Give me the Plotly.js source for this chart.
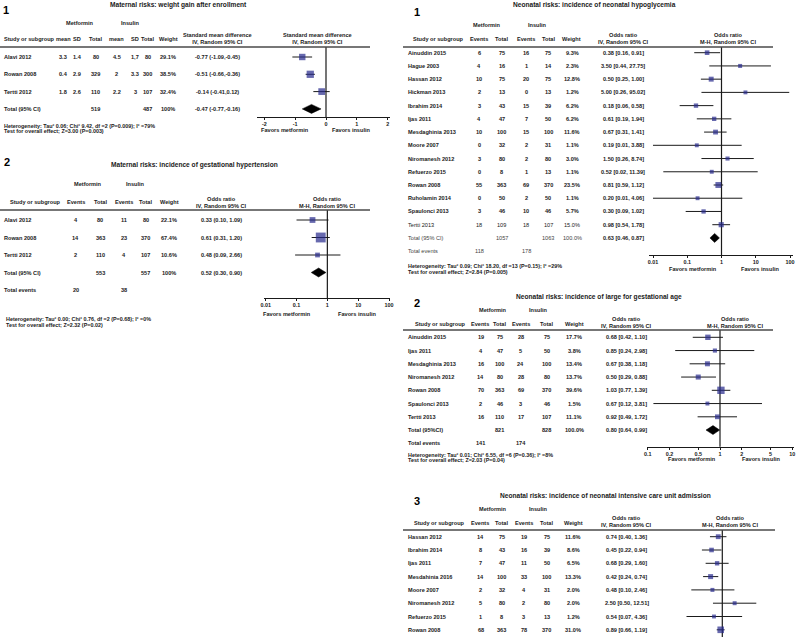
<!DOCTYPE html>
<html><head><meta charset="utf-8">
<script src="https://cdn.plot.ly/plotly-3.0.1.min.js"></script>
<style>html,body{margin:0;padding:0;background:#fff}#chart{width:800px;height:637px}</style>
</head><body><div id="chart"></div>
<script>
// ================= DATA =================
// Panel 1 (left): Maternal risks – weight gain after enrollment
const wgStudy   = ["Alavi 2012", "Rowan 2008", "Tertti 2012"];
const wgMetMean = ["3.3", "0.4", "1.8"];
const wgMetSD   = ["1.4", "2.9", "2.6"];
const wgMetN    = [80, 329, 110];
const wgInsMean = ["4.5", "2", "2.2"];
const wgInsSD   = ["1,7", "3.3", "3"];
const wgInsN    = [80, 300, 107];
const wgWeight  = [29.1, 38.5, 32.4];
const wgEst     = [-0.77, -0.51, -0.14];
const wgLo      = [-1.09, -0.66, -0.41];
const wgHi      = [-0.45, -0.36, 0.12];
const wgPooled  = [-0.47, -0.77, -0.16];
const wgTotalN  = [519, 487];
const wgHet  = "Heterogeneity: Tau² 0.06; Chi² 9.42, df =2 (P=0.009); I² =79%";
const wgTest = "Test for overall effect; Z=3.00 (P=0.003)";
const wgTicks = [-2, -1, 0, 1, 2];

// Panel 2 (left): Maternal risks – gestational hypertension
const ghStudy  = ["Alavi 2012", "Rowan 2008", "Tertti 2012"];
const ghMetEv  = [4, 14, 2];
const ghMetN   = [80, 363, 110];
const ghInsEv  = [11, 23, 4];
const ghInsN   = [80, 370, 107];
const ghWeight = [22.1, 67.4, 10.6];
const ghOR     = [0.33, 0.61, 0.48];
const ghLo     = [0.10, 0.31, 0.09];
const ghHi     = [1.09, 1.20, 2.66];
const ghPooled = [0.52, 0.30, 0.90];
const ghTotalN = [553, 557];
const ghTotalEv = [20, 38];
const ghHet  = "Heterogeneity: Tau² 0.00; Chi² 0.76, df =2 (P=0.68); I² =0%";
const ghTest = "Test for overall effect; Z=2.32 (P=0.02)";
const logTicks = [0.01, 0.1, 1, 10, 100];

// Panel 1 (right): Neonatal hypoglycemia
const hgStudy  = ["Ainuddin 2015", "Hague 2003", "Hassan 2012", "Hickman 2013", "Ibrahim 2014", "Ijas 2011", "Mesdaghinia 2013", "Moore 2007", "Niromanesh 2012", "Refuerzo 2015", "Rowan 2008", "Ruholamin 2014", "Spaulonci 2013", "Tertti 2013"];
const hgMetEv  = [6, 4, 10, 2, 3, 4, 10, 0, 3, 0, 55, 0, 3, 18];
const hgMetN   = [75, 16, 75, 13, 43, 47, 100, 32, 80, 8, 363, 50, 46, 109];
const hgInsEv  = [16, 1, 20, 0, 15, 7, 15, 2, 2, 1, 69, 2, 10, 18];
const hgInsN   = [75, 14, 75, 13, 39, 50, 100, 31, 80, 13, 370, 50, 46, 107];
const hgWeight = [9.3, 2.3, 12.8, 1.2, 6.2, 6.2, 11.6, 1.1, 3.0, 1.1, 23.5, 1.1, 5.7, 15.0];
const hgOR     = [0.38, 3.50, 0.50, 5.00, 0.18, 0.61, 0.67, 0.19, 1.50, 0.52, 0.81, 0.20, 0.30, 0.98];
const hgLo     = [0.16, 0.44, 0.25, 0.26, 0.06, 0.19, 0.31, 0.01, 0.26, 0.02, 0.59, 0.01, 0.09, 0.54];
const hgHi     = [0.91, 27.75, 1.00, 95.02, 0.58, 1.94, 1.41, 3.88, 8.74, 11.39, 1.12, 4.06, 1.02, 1.78];
const hgPooled = [0.63, 0.46, 0.87];
const hgTotalN = [1057, 1063];
const hgTotalEv = [118, 178];
const hgHet  = "Heterogeneity: Tau² 0.09; Chi² 18.20, df =13 (P=0.15); I² =29%";
const hgTest = "Test for overall effect; Z=2.84 (P=0.005)";

// Panel 2 (right): Large for gestational age
const lgStudy  = ["Ainuddin 2015", "Ijas 2011", "Mesdaghinia 2013", "Niromanesh 2012", "Rowan 2008", "Spaulonci 2013", "Tertti 2013"];
const lgMetEv  = [19, 4, 16, 14, 70, 2, 16];
const lgMetN   = [75, 47, 100, 80, 363, 46, 110];
const lgInsEv  = [28, 5, 24, 28, 69, 3, 17];
const lgInsN   = [75, 50, 100, 80, 370, 46, 107];
const lgWeight = [17.7, 3.8, 13.4, 13.7, 39.6, 1.5, 11.1];
const lgOR     = [0.68, 0.85, 0.67, 0.50, 1.03, 0.67, 0.92];
const lgLo     = [0.42, 0.24, 0.38, 0.29, 0.77, 0.12, 0.49];
const lgHi     = [1.10, 2.98, 1.18, 0.88, 1.39, 3.81, 1.72];
const lgPooled = [0.80, 0.64, 0.99];
const lgTotalN = [821, 828];
const lgTotalEv = [141, 174];
const lgHet  = "Heterogeneity: Tau² 0.01; Chi² 6.55, df =6 (P=0.36); I² =8%";
const lgTest = "Test for overall effect; Z=2.03 (P=0.04)";
const lgTicks = [0.1, 0.2, 0.5, 1, 2, 5, 10];

// Panel 3 (right): NICU admission
const icStudy  = ["Hassan 2012", "Ibrahim 2014", "Ijas 2011", "Mesdahinia 2016", "Moore 2007", "Niromanesh 2012", "Refuerzo 2015", "Rowan 2008"];
const icMetEv  = [14, 8, 7, 14, 2, 5, 1, 68];
const icMetN   = [75, 43, 47, 100, 32, 80, 8, 363];
const icInsEv  = [19, 16, 11, 33, 4, 2, 3, 78];
const icInsN   = [75, 39, 50, 100, 31, 80, 13, 370];
const icWeight = [11.6, 8.6, 6.5, 13.3, 2.0, 2.0, 1.2, 31.0];
const icOR     = [0.74, 0.45, 0.68, 0.42, 0.48, 2.50, 0.54, 0.89];
const icLo     = [0.40, 0.22, 0.29, 0.24, 0.10, 0.50, 0.07, 0.66];
const icHi     = [1.36, 0.94, 1.60, 0.74, 2.46, 12.51, 4.36, 1.19];

// ================= RENDERING =================
const W = 800, H = 637;
const FONT = '"Liberation Sans", Arial, Helvetica, sans-serif';
const INK = '#1a1a1a';
const BLUE = '#262a8c';
const fx = p => p / W, fy = p => 1 - p / H;
const annotations = [], shapes = [], traces = [], layout = {};

function text(t, x, y, o = {}) {
  annotations.push({
    text: t, showarrow: false, x: fx(x), xref: 'paper',
    y: o.yref ? y : fy(y), yref: o.yref || 'paper',
    xanchor: o.anchor || 'center', yanchor: 'middle', borderpad: 0,
    font: { family: FONT, size: o.size || 5.6, color: o.color || INK, weight: o.weight || 'bold' }
  });
}
function hline(x0, x1, y) {
  shapes.push({ type: 'line', xref: 'paper', yref: 'paper', x0: fx(x0), x1: fx(x1), y0: fy(y), y1: fy(y),
    line: { color: '#4a4a4a', width: 1.3 } });
}
function xAxis(o) {
  const tv = v => o.type === 'log' ? Math.log10(v) : v;
  const slope = (tv(o.v1) - tv(o.v0)) / (o.p1 - o.p0);
  const show = o.show !== false;
  return {
    type: o.type, domain: [fx(o.d0), fx(o.d1)],
    range: [tv(o.v0) + (o.d0 - o.p0) * slope, tv(o.v0) + (o.d1 - o.p0) * slope],
    anchor: 'free', position: show ? fy(o.y) : 0,
    showline: show, linecolor: INK, linewidth: 1,
    ticks: show ? 'outside' : '', ticklen: 2, tickwidth: 1, tickcolor: INK,
    tickvals: o.ticks, ticktext: o.ticks ? o.ticks.map(String) : undefined,
    showticklabels: show,
    tickfont: { family: FONT, size: 5.4, color: INK, weight: 'bold' },
    showgrid: false, zeroline: false, fixedrange: true
  };
}
const sizeOf = w => 3.8 + 0.09 * w;

function forest(k, r0, s, axCfg, est, lo, hi, weight, pooled, pooledRow, nullVal, nullTop, nullBot) {
  const xa = k === 1 ? 'x' : 'x' + k, ya = k === 1 ? 'y' : 'y' + k;
  layout[k === 1 ? 'xaxis' : 'xaxis' + k] = xAxis(axCfg);
  layout[k === 1 ? 'yaxis' : 'yaxis' + k] = { domain: [0, 1], range: [(H - r0) / s, -r0 / s], visible: false, fixedrange: true };
  const rows = est.map((_, i) => i);
  traces.push({ type: 'scatter', mode: 'lines', xaxis: xa, yaxis: ya,
    x: [nullVal, nullVal], y: [(nullTop - r0) / s, (nullBot - r0) / s],
    line: { color: INK, width: 1.2 }, hoverinfo: 'skip' });
  traces.push({ type: 'scatter', mode: 'markers', xaxis: xa, yaxis: ya, x: est, y: rows,
    marker: { symbol: 'square', size: weight.map(sizeOf), color: BLUE, line: { width: 0 } },
    error_x: { type: 'data', symmetric: false, array: est.map((e, i) => hi[i] - e),
      arrayminus: est.map((e, i) => e - lo[i]), color: INK, thickness: 1, width: 0 },
    hoverinfo: 'skip', cliponaxis: false });
  if (pooled) {
    const h = 4.5 / s, r = pooledRow;
    traces.push({ type: 'scatter', mode: 'lines', xaxis: xa, yaxis: ya, fill: 'toself',
      x: [pooled[1], pooled[0], pooled[2], pooled[0], pooled[1]],
      y: [r, r - h, r, r + h, r], fillcolor: '#000', line: { color: '#000', width: 0.5 }, hoverinfo: 'skip' });
  }
  return ya;
}

const ciParen = (e, l, h, sep) => `${e.toFixed(2)} (${l.toFixed(2)},${sep}${h.toFixed(2)})`;
const ciBrack = (e, l, h) => `${e.toFixed(2)} [${l.toFixed(2)}, ${h.toFixed(2)}]`;
const pct = w => w.toFixed(1) + '%';

// ---------- Left panel 1 ----------
(function () {
  const r0 = 57, s = 17.3;
  const ya = forest(1, r0, s, { type: 'linear', d0: 257, d1: 390, p0: 264.3, v0: -2, p1: 387.7, v1: 2, y: 117, ticks: wgTicks },
    wgEst, wgLo, wgHi, wgWeight, wgPooled, wgStudy.length, 0, 47, 117);
  text('1', 6, 10, { size: 11, color: '#000' });
  text('Maternal risks: weight gain after enrollment', 178.5, 5, { size: 6.6 });
  text('Metformin', 80, 23); text('Insulin', 130, 23);
  text('Study or subgroup', 3, 39, { anchor: 'left' });
  [['mean', 63.3], ['SD', 77.3], ['Total', 95.7], ['mean', 116.7], ['SD', 135], ['Total', 147.7], ['Weight', 168.3]]
    .forEach(([t, x]) => text(t, x, 39));
  text('Standard mean difference<br>IV, Random 95% CI', 217, 38.5);
  text('Standard mean difference<br>IV, Random 95% CI', 317, 38.5);
  hline(0, 370, 47);
  wgStudy.forEach((st, i) => {
    const o = { yref: ya };
    text(st, 3, i, { ...o, anchor: 'left' });
    text(wgMetMean[i], 63.3, i, o); text(wgMetSD[i], 77.3, i, o); text(String(wgMetN[i]), 95.7, i, o);
    text(wgInsMean[i], 116.7, i, o); text(wgInsSD[i], 135, i, o); text(String(wgInsN[i]), 147.7, i, o);
    text(pct(wgWeight[i]), 168.3, i, o);
    text(ciParen(wgEst[i], wgLo[i], wgHi[i], ''), 217, i, o);
  });
  const t = wgStudy.length, o = { yref: ya };
  text('Total (95% CI)', 3, t, { ...o, anchor: 'left' });
  text(String(wgTotalN[0]), 95.7, t, o); text(String(wgTotalN[1]), 147.7, t, o);
  text('100%', 168.3, t, o);
  text(ciParen(wgPooled[0], wgPooled[1], wgPooled[2], ''), 217, t, o);
  text(wgHet, 3, 125.7, { anchor: 'left', size: 5.4 });
  text(wgTest, 3, 131, { anchor: 'left', size: 5.4 });
  text('Favors metformin', 285, 130); text('Favors insulin', 351, 130);
})();

// ---------- Left panel 2 ----------
(function () {
  const r0 = 220, s = 17.5;
  const ya = forest(2, r0, s, { type: 'log', d0: 264, d1: 390, p0: 265.7, v0: 0.01, p1: 389, v1: 100, y: 298, ticks: logTicks },
    ghOR, ghLo, ghHi, ghWeight, ghPooled, ghStudy.length, 1, 210, 298);
  text('2', 6.5, 161.7, { size: 11, color: '#000' });
  text('Maternal risks: incidence of gestational hypertension', 194, 165, { size: 6.6 });
  text('Metformin', 88.3, 184); text('Insulin', 135, 184);
  text('Study or subgroup', 9, 202, { anchor: 'left' });
  [['Events', 75.5], ['Total', 100], ['Events', 124], ['Total', 145.7], ['Weight', 169]].forEach(([t, x]) => text(t, x, 202));
  text('Odds ratio<br>IV, Random 95% CI', 221.7, 202);
  text('Odds ratio<br>M-H, Random 95% CI', 326.7, 202);
  hline(0, 370, 210);
  const o = { yref: ya };
  ghStudy.forEach((st, i) => {
    text(st, 3, i, { ...o, anchor: 'left' });
    text(String(ghMetEv[i]), 75.5, i, o); text(String(ghMetN[i]), 100, i, o);
    text(String(ghInsEv[i]), 123.5, i, o); text(String(ghInsN[i]), 145.7, i, o);
    text(pct(ghWeight[i]), 169, i, o);
    text(ciParen(ghOR[i], ghLo[i], ghHi[i], ' '), 221.7, i, o);
  });
  const t = ghStudy.length;
  text('Total (95% CI)', 3, t, { ...o, anchor: 'left' });
  text(String(ghTotalN[0]), 100, t, o); text(String(ghTotalN[1]), 145.7, t, o);
  text('100%', 169, t, o);
  text(ciParen(ghPooled[0], ghPooled[1], ghPooled[2], ' '), 221.7, t, o);
  text('Total events', 3, t + 1, { ...o, anchor: 'left' });
  text(String(ghTotalEv[0]), 75.5, t + 1, o); text(String(ghTotalEv[1]), 123.5, t + 1, o);
  text(ghHet, 5, 319, { anchor: 'left', size: 5.4 });
  text(ghTest, 5, 325, { anchor: 'left', size: 5.4 });
  text('Favors metformin', 287, 314); text('Favors insulin', 357.5, 314);
})();

// ---------- Right panel 1 ----------
(function () {
  const r0 = 52.7, s = 13.23;
  const ya = forest(3, r0, s, { type: 'log', d0: 649.3, d1: 793.3, p0: 653, v0: 0.01, p1: 790, v1: 100, y: 255, ticks: logTicks },
    hgOR, hgLo, hgHi, hgWeight, hgPooled, hgStudy.length, 1, 47, 255);
  text('1', 416.5, 12.5, { size: 11, color: '#000' });
  text('Neonatal risks: incidence of neonatal hypoglycemia', 594, 5, { size: 6.6 });
  text('Metformin', 486.7, 25); text('Insulin', 537.3, 25);
  text('Study or subgroup', 412, 39, { anchor: 'left' });
  [['Events', 479], ['Total', 501.7], ['Events', 525.7], ['Total', 548.3], ['Weight', 571.7]].forEach(([t, x]) => text(t, x, 39));
  text('Odds ratio<br>IV, Random 95% CI', 623.3, 38.5);
  text('Odds ratio<br>M-H, Random 95% CI', 728.3, 38.5);
  hline(403, 773, 47);
  const last = hgStudy.length - 1;
  hgStudy.forEach((st, i) => {
    const o = { yref: ya, weight: i === last ? 'normal' : 'bold' };
    text(st, 406.7, i, { ...o, anchor: 'left' });
    text(String(hgMetEv[i]), 479, i, o); text(String(hgMetN[i]), 501.7, i, o);
    text(String(hgInsEv[i]), 526, i, o); text(String(hgInsN[i]), 548.3, i, o);
    text(pct(hgWeight[i]), 572, i, o);
    text(ciBrack(hgOR[i], hgLo[i], hgHi[i]), 623.3, i, { yref: ya });
  });
  const t = hgStudy.length, o = { yref: ya, weight: 'normal', color: '#444' };
  text('Total (95% CI)', 406.7, t, { ...o, anchor: 'left' });
  text(String(hgTotalN[0]), 501.7, t, o); text(String(hgTotalN[1]), 548.3, t, o);
  text('100.0%', 572, t, o);
  text(ciBrack(hgPooled[0], hgPooled[1], hgPooled[2]), 623.3, t, { yref: ya });
  text('Total events', 406.7, t + 1, { ...o, anchor: 'left' });
  text(String(hgTotalEv[0]), 479, t + 1, o); text(String(hgTotalEv[1]), 526, t + 1, o);
  text(hgHet, 407.3, 266, { anchor: 'left', size: 5.4 });
  text(hgTest, 407.3, 271.7, { anchor: 'left', size: 5.4 });
  text('Favors metformin', 693, 269); text('Favors insulin', 760, 269);
})();

// ---------- Right panel 2 ----------
(function () {
  const r0 = 337.3, s = 13.25;
  const ya = forest(4, r0, s, { type: 'log', d0: 647.3, d1: 794, p0: 647.7, v0: 0.1, p1: 792.3, v1: 10, y: 446.7, ticks: lgTicks },
    lgOR, lgLo, lgHi, lgWeight, lgPooled, lgStudy.length, 1, 330, 446.7);
  text('2', 416.5, 303, { size: 11, color: '#000' });
  text('Neonatal risks: incidence of large for gestational age', 599, 296.5, { size: 6.6 });
  text('Metformin', 493.3, 310); text('Insulin', 538.3, 310);
  text('Study or subgroup', 414, 324, { anchor: 'left' });
  [['Events', 480], ['Total', 499], ['Events', 520.7], ['Total', 546.7], ['Weight', 574]].forEach(([t, x]) => text(t, x, 324));
  text('Odds ratio<br>IV, Random 95% CI', 626.7, 322);
  text('Odds ratio<br>M-H, Random 95% CI', 735, 322);
  hline(403, 773, 330);
  const o = { yref: ya };
  lgStudy.forEach((st, i) => {
    text(st, 406.7, i, { ...o, anchor: 'left' });
    text(String(lgMetEv[i]), 481, i, o); text(String(lgMetN[i]), 499.5, i, o);
    text(String(lgInsEv[i]), 520.7, i, o); text(String(lgInsN[i]), 546.7, i, o);
    text(pct(lgWeight[i]), 574, i, o);
    text(ciBrack(lgOR[i], lgLo[i], lgHi[i]), 626.7, i, o);
  });
  const t = lgStudy.length;
  text('Total (95%CI)', 406.7, t, { ...o, anchor: 'left' });
  text(String(lgTotalN[0]), 499.5, t, o); text(String(lgTotalN[1]), 546.7, t, o);
  text('100.0%', 574, t, o);
  text(ciBrack(lgPooled[0], lgPooled[1], lgPooled[2]), 626.7, t, o);
  text('Total events', 406.7, t + 1, { ...o, anchor: 'left' });
  text(String(lgTotalEv[0]), 481, t + 1, o); text(String(lgTotalEv[1]), 520.7, t + 1, o);
  text(lgHet, 407.3, 455, { anchor: 'left', size: 5.4 });
  text(lgTest, 407.3, 460.3, { anchor: 'left', size: 5.4 });
  text('Favors metformin', 691.5, 459); text('Favors insulin', 761.7, 459);
})();

// ---------- Right panel 3 ----------
(function () {
  const r0 = 536.7, s = 13.3;
  const ya = forest(5, r0, s, { type: 'log', d0: 660, d1: 785, p0: 660.3, v0: 0.01, p1: 784.3, v1: 100, show: false },
    icOR, icLo, icHi, icWeight, null, 0, 1, 530, 640);
  text('3', 416.5, 500.8, { size: 11, color: '#000' });
  text('Neonatal risks: incidence of neonatal intensive care unit admission', 605.5, 495.7, { size: 6.6 });
  text('Metformin', 492.7, 509); text('Insulin', 538.3, 509);
  text('Study or subgroup', 413, 523, { anchor: 'left' });
  [['Events', 480], ['Total', 501.7], ['Events', 524], ['Total', 546.7], ['Weight', 573.3]].forEach(([t, x]) => text(t, x, 523));
  text('Odds ratio<br>IV, Random 95% CI', 626.7, 521);
  text('Odds ratio<br>M-H, Random 95% CI', 730, 521);
  hline(403, 775, 530);
  const o = { yref: ya };
  icStudy.forEach((st, i) => {
    text(st, 406.7, i, { ...o, anchor: 'left' });
    text(String(icMetEv[i]), 481, i, o); text(String(icMetN[i]), 502, i, o);
    text(String(icInsEv[i]), 523.5, i, o); text(String(icInsN[i]), 546.7, i, o);
    text(pct(icWeight[i]), 573.3, i, o);
    text(ciBrack(icOR[i], icLo[i], icHi[i]), 626.7, i, o);
  });
})();

Object.assign(layout, {
  width: W, height: H, margin: { l: 0, r: 0, t: 0, b: 0, pad: 0 },
  paper_bgcolor: '#fff', plot_bgcolor: 'rgba(0,0,0,0)',
  showlegend: false, hovermode: false,
  font: { family: FONT, color: INK },
  annotations, shapes
});
Plotly.newPlot('chart', traces, layout, { staticPlot: true, displayModeBar: false });
</script>
</body></html>
